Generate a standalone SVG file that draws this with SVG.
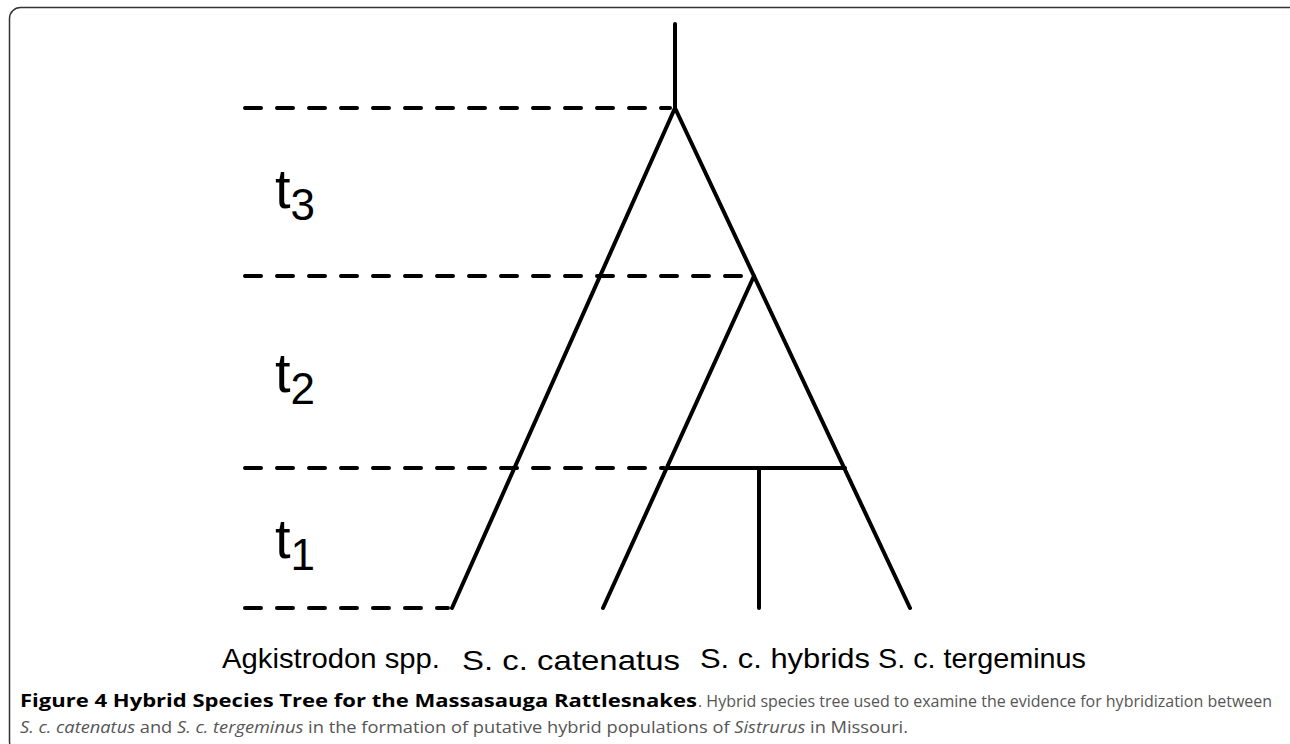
<svg xmlns="http://www.w3.org/2000/svg" width="1290" height="744" viewBox="0 0 1290 744">
<style>
.frame{fill:#fff;stroke:#333;stroke-width:1.5}
.br{stroke:#000;stroke-width:4;stroke-linecap:round;fill:none}
.dash{stroke:#000;stroke-width:4;stroke-linecap:round;stroke-dasharray:16 16;fill:none}
.tl{font-family:"Liberation Sans",Arial,sans-serif;fill:#000}
.lab{font-family:"Liberation Sans",Arial,sans-serif;font-size:28px;fill:#000}
.cap{font-family:"Open Sans","Noto Sans",sans-serif;font-size:16px;fill:#555}
.capb{font-weight:bold;fill:#000;font-size:18px}
.it{font-style:italic}
</style>
<rect class="frame" x="9.5" y="7.5" width="1290" height="745" rx="11"/>
<g id="connectors">
<line class="dash" x1="245" y1="108" x2="670" y2="108"/>
<line class="dash" x1="245" y1="276" x2="750" y2="276"/>
<line class="dash" x1="245" y1="468" x2="664" y2="468"/>
<line class="dash" x1="245" y1="608" x2="448" y2="608"/>
<line class="br" x1="675" y1="24" x2="675" y2="108"/>
<line class="br" x1="675" y1="108" x2="452" y2="608"/>
<line class="br" x1="675" y1="108" x2="910" y2="608"/>
<line class="br" x1="754" y1="276" x2="603" y2="608"/>
<line class="br" x1="668" y1="468" x2="845" y2="468"/>
<line class="br" x1="759" y1="468" x2="759" y2="608"/>
</g>
<g id="t3"><text class="tl" x="275" y="208" font-size="56">t<tspan font-size="44" dy="12">3</tspan></text></g>
<g id="t2"><text class="tl" x="275" y="392" font-size="56">t<tspan font-size="44" dy="12">2</tspan></text></g>
<g id="t1"><text class="tl" x="275" y="558" font-size="56">t<tspan font-size="44" dy="12">1</tspan></text></g>
<g id="agkistrodon"><text class="lab" x="222" y="668" textLength="218" lengthAdjust="spacingAndGlyphs">Agkistrodon spp.</text></g>
<g id="catenatus"><text class="lab" x="462" y="670" textLength="218" lengthAdjust="spacingAndGlyphs">S. c. catenatus</text></g>
<g id="hybrids"><text class="lab" x="700" y="668" textLength="170" lengthAdjust="spacingAndGlyphs">S. c. hybrids</text></g>
<g id="tergeminus"><text class="lab" x="878" y="668" textLength="208" lengthAdjust="spacingAndGlyphs">S. c. tergeminus</text></g>
<g id="caption">
<text class="cap capb" x="20" y="707" textLength="677" lengthAdjust="spacingAndGlyphs">Figure 4 Hybrid Species Tree for the Massasauga Rattlesnakes</text>
<text class="cap" x="698" y="707" textLength="574" lengthAdjust="spacingAndGlyphs">. Hybrid species tree used to examine the evidence for hybridization between</text>
<text class="cap" x="20" y="733" textLength="888" lengthAdjust="spacingAndGlyphs"><tspan class="it">S. c. catenatus</tspan> and <tspan class="it">S. c. tergeminus</tspan> in the formation of putative hybrid populations of <tspan class="it">Sistrurus</tspan> in Missouri.</text>
</g>
</svg>
